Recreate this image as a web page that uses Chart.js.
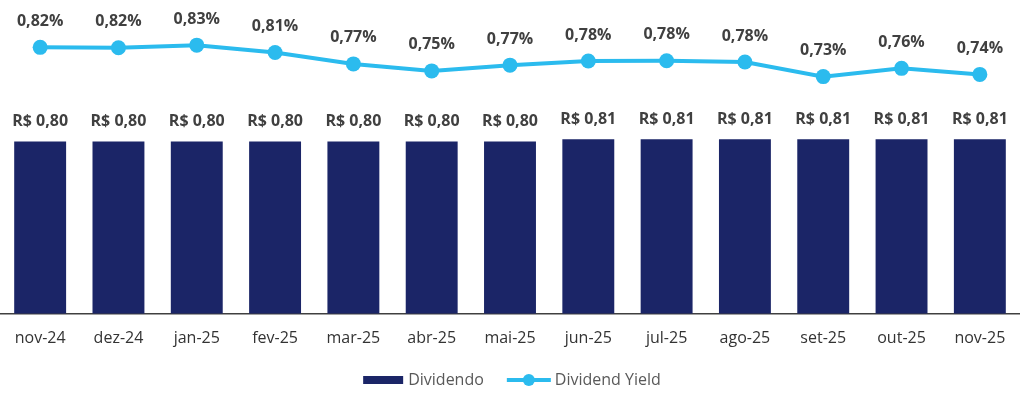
<!DOCTYPE html>
<html>
<head>
<meta charset="utf-8">
<script src="https://cdn.jsdelivr.net/npm/chart.js@4.4.1/dist/chart.umd.min.js"></script>
<style>
  html, body { margin: 0; padding: 0; background: #fff; }
  #wrap { width: 1024px; height: 396px; }
</style>
</head>
<body>
<div id="wrap"><canvas id="chart"></canvas></div>
<script>
const months = ["nov-24", "dez-24", "jan-25", "fev-25", "mar-25", "abr-25", "mai-25",
  "jun-25", "jul-25", "ago-25", "set-25", "out-25", "nov-25"];
const dividendo = [0.80, 0.80, 0.80, 0.80, 0.80, 0.80, 0.80, 0.81, 0.81, 0.81, 0.81, 0.81, 0.81];
const dividendYield = [0.822, 0.821, 0.829, 0.806, 0.770, 0.748, 0.766, 0.779, 0.780, 0.776, 0.730, 0.756, 0.737];

const NAVY = "#1b2567";
const CYAN = "#2bbbee";
const FONT = "'Open Sans', 'Liberation Sans', sans-serif";

// value labels above bars and points
const valueLabels = {
  id: "valueLabels",
  afterDatasetsDraw(chart) {
    const ctx = chart.ctx;
    ctx.save();
    ctx.font = "bold 16px " + FONT;
    ctx.fillStyle = "#404040";
    ctx.textAlign = "center";
    ctx.textBaseline = "middle";
    chart.getDatasetMeta(0).data.forEach((bar, i) => {
      const txt = "R$ " + dividendo[i].toFixed(2).replace(".", ",");
      ctx.fillText(txt, bar.x, bar.y - 20);
    });
    chart.getDatasetMeta(1).data.forEach((pt, i) => {
      const txt = dividendYield[i].toFixed(2).replace(".", ",") + "%";
      ctx.fillText(txt, pt.x, pt.y - 26);
    });
    ctx.restore();
  },
};

// legend at the bottom: bar box + line with marker
const bottomLegend = {
  id: "bottomLegend",
  afterDraw(chart) {
    const ctx = chart.ctx;
    const ds = chart.data.datasets;
    ctx.save();
    ctx.font = "16px " + FONT;
    ctx.textBaseline = "middle";
    const w1 = ctx.measureText(ds[0].label).width;
    const w2 = ctx.measureText(ds[1].label).width;
    const total = 40 + 5 + w1 + 23 + 44 + 4 + w2;
    let x = chart.width / 2 - total / 2;
    const y = 380;
    ctx.fillStyle = NAVY;
    ctx.fillRect(x, y - 4, 40, 8);
    x += 45;
    ctx.fillStyle = "#595959";
    ctx.fillText(ds[0].label, x, y);
    x += w1 + 23;
    ctx.strokeStyle = CYAN;
    ctx.lineWidth = 4;
    ctx.beginPath();
    ctx.moveTo(x, y);
    ctx.lineTo(x + 44, y);
    ctx.stroke();
    ctx.fillStyle = CYAN;
    ctx.beginPath();
    ctx.arc(x + 22, y, 6, 0, Math.PI * 2);
    ctx.fill();
    x += 48;
    ctx.fillStyle = "#595959";
    ctx.fillText(ds[1].label, x, y);
    ctx.restore();
  },
};

new Chart(document.getElementById("chart"), {
  data: {
    labels: months,
    datasets: [
      {
        type: "bar",
        label: "Dividendo",
        data: dividendo,
        backgroundColor: NAVY,
        categoryPercentage: 1,
        barPercentage: 0.663,
        yAxisID: "y",
        order: 2,
      },
      {
        type: "line",
        label: "Dividend Yield",
        data: dividendYield,
        borderColor: CYAN,
        backgroundColor: CYAN,
        borderWidth: 4,
        pointRadius: 7.5,
        pointHoverRadius: 7.5,
        pointBorderWidth: 0,
        tension: 0,
        yAxisID: "y2",
        order: 1,
      },
    ],
  },
  options: {
    responsive: true,
    maintainAspectRatio: false,
    animation: false,
    layout: { autoPadding: false, padding: { left: 1, right: 5, top: 0, bottom: 33 } },
    plugins: {
      legend: { display: false },
      tooltip: { enabled: false },
    },
    scales: {
      x: {
        offset: true,
        grid: { display: false, drawTicks: false },
        border: { display: true, color: "#404040", width: 1.5 },
        ticks: { color: "#333333", padding: 15, font: { family: FONT, size: 16 } },
        afterFit(scale) {
          scale.paddingLeft = 0;
          scale.paddingRight = 0;
        },
      },
      y: { display: false, min: 0, max: 1.456 },
      y2: { display: false, min: -0.016, max: 0.971 },
    },
  },
  plugins: [valueLabels, bottomLegend],
});
</script>
</body>
</html>
